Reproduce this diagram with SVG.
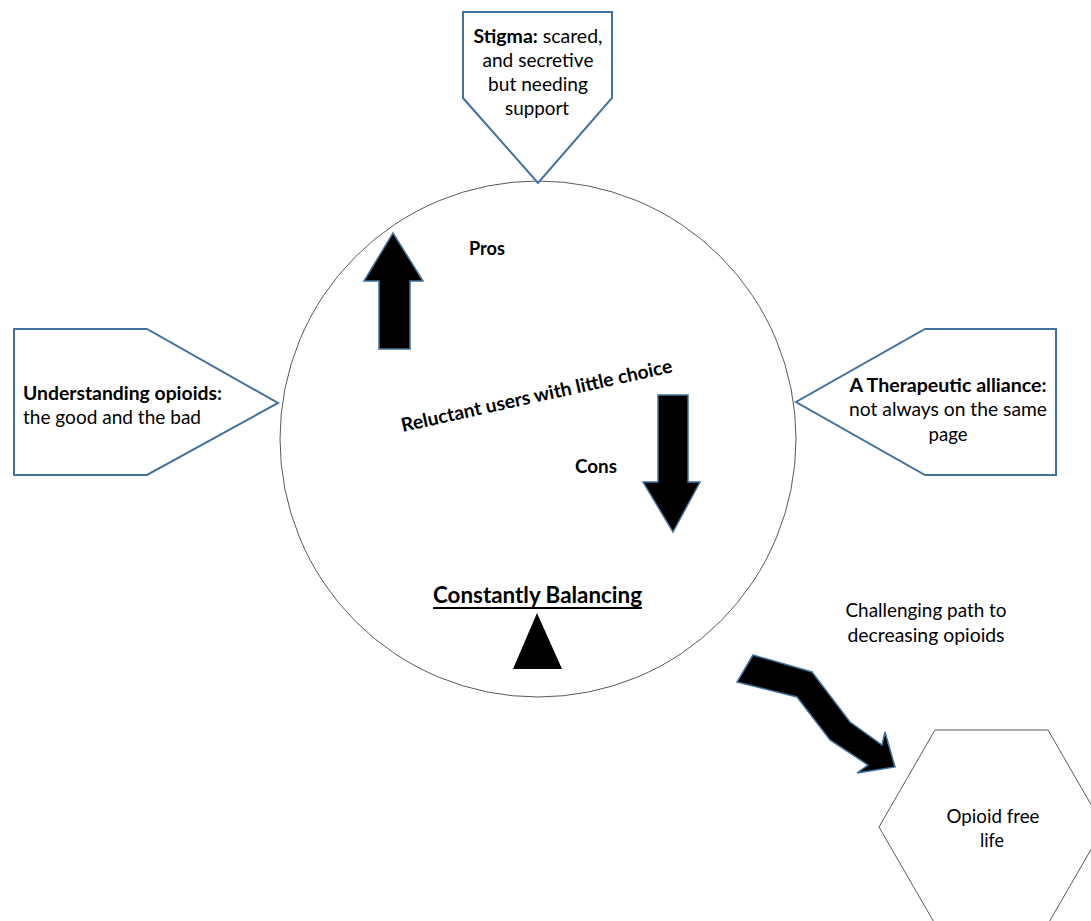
<svg xmlns="http://www.w3.org/2000/svg" width="1091" height="921" viewBox="0 0 1091 921">
<style>
.t{font-family:Lato,"Open Sans","Liberation Sans",sans-serif;font-size:19px;fill:#000}
.b{font-weight:bold}
.box{fill:#fff;stroke:#41719c;stroke-width:2}
.thin{fill:#fff;stroke:#595959;stroke-width:1}
.arr{fill:#000;stroke:#41719c;stroke-width:1.5;stroke-linejoin:miter}
</style>
<rect width="1091" height="921" fill="#fff"/>
<g id="circle">
<circle class="thin" cx="538" cy="439" r="258"/>
</g>
<g id="stigma">
<polygon class="box" points="463,12 612,12 612,98 538,183 463,98"/>
<text class="t" text-anchor="middle" x="538" y="43" textLength="129" lengthAdjust="spacingAndGlyphs"><tspan class="b">Stigma:</tspan> scared,</text>
<text class="t" text-anchor="middle" x="538" y="67" textLength="111" lengthAdjust="spacingAndGlyphs">and secretive</text>
<text class="t" text-anchor="middle" x="538" y="91" textLength="100" lengthAdjust="spacingAndGlyphs">but needing</text>
<text class="t" text-anchor="middle" x="537" y="115" textLength="64" lengthAdjust="spacingAndGlyphs">support</text>
</g>
<g id="understanding">
<polygon class="box" points="14,329 147,329 278,403 147,475 14,475"/>
<text class="t b" x="23" y="400" textLength="199" lengthAdjust="spacingAndGlyphs">Understanding opioids:</text>
<text class="t" x="23" y="424" textLength="178" lengthAdjust="spacingAndGlyphs">the good and the bad</text>
</g>
<g id="alliance">
<polygon class="box" points="1056,329 925,329 796,402 925,475 1056,475"/>
<text class="t b" text-anchor="middle" x="948" y="392" textLength="197" lengthAdjust="spacingAndGlyphs">A Therapeutic alliance:</text>
<text class="t" text-anchor="middle" x="948" y="416" textLength="198" lengthAdjust="spacingAndGlyphs">not always on the same</text>
<text class="t" text-anchor="middle" x="948" y="441" textLength="39" lengthAdjust="spacingAndGlyphs">page</text>
</g>
<g id="pros">
<polygon class="arr" points="393,233 423,281 410,281 410,349 379,349 379,281 364,281"/>
<text class="t b" x="469" y="255" textLength="36" lengthAdjust="spacingAndGlyphs">Pros</text>
</g>
<g id="cons">
<polygon class="arr" points="658,395 688,395 688,482 700,482 673,532 643,482 658,482"/>
<text class="t b" x="575" y="473" textLength="42" lengthAdjust="spacingAndGlyphs">Cons</text>
</g>
<g id="center-label">
<text class="t b" text-anchor="middle" x="538" y="402" textLength="277" lengthAdjust="spacingAndGlyphs" transform="rotate(-12.5 538 402)">Reluctant users with little choice</text>
</g>
<g id="balancing">
<text class="t b" style="font-size:23px" x="433" y="603" textLength="209" lengthAdjust="spacingAndGlyphs">Constantly Balancing</text>
<line x1="433" y1="608" x2="642" y2="608" stroke="#000" stroke-width="2"/>
<polygon points="537,613 562,669 513,669" fill="#000"/>
</g>
<g id="path-label">
<text class="t" text-anchor="middle" x="926" y="617" textLength="161" lengthAdjust="spacingAndGlyphs">Challenging path to</text>
<text class="t" text-anchor="middle" x="926" y="642" textLength="157" lengthAdjust="spacingAndGlyphs">decreasing opioids</text>
</g>
<g id="connectors">
<polygon class="arr" stroke-width="2" points="753,655 812,672 850,722 882,745 885,732 895,767 857,773 868,765 830,740 797,697 737,682"/>
</g>
<g id="opioid-free">
<polygon class="thin" points="935,730 1048,730 1104,827 1048,924 935,924 879,827"/>
<text class="t" text-anchor="middle" x="993" y="823" textLength="93" lengthAdjust="spacingAndGlyphs">Opioid free</text>
<text class="t" text-anchor="middle" x="992" y="847" textLength="24" lengthAdjust="spacingAndGlyphs">life</text>
</g>
</svg>
